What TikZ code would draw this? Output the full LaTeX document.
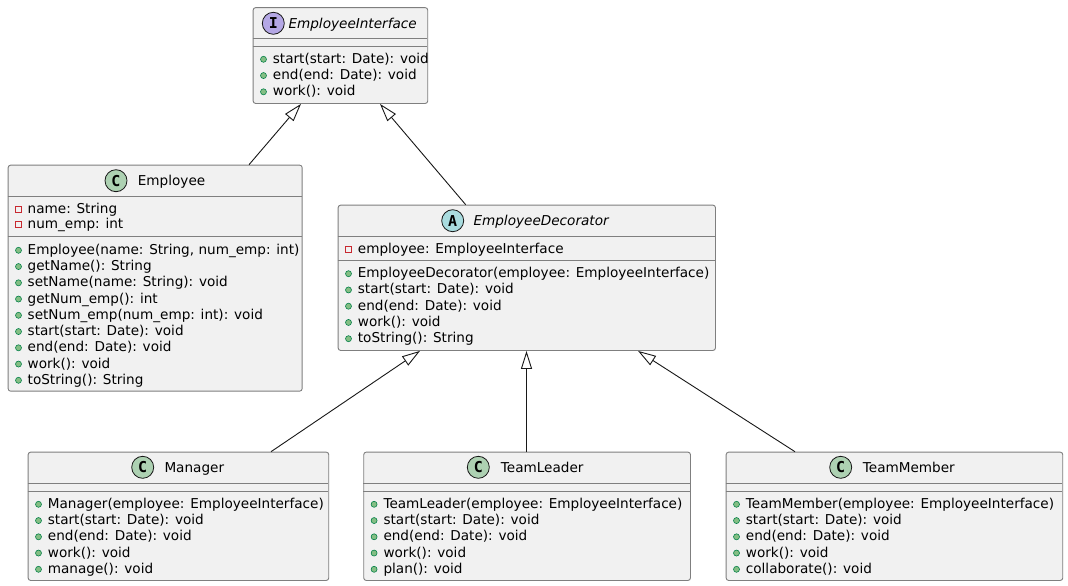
\documentclass[tikz,border=0pt]{standalone}
\usepackage{fontspec}
\setmainfont{DejaVu Sans}
\setmonofont{DejaVu Sans Mono}
\usetikzlibrary{arrows.meta,calc}
\definecolor{boxfill}{HTML}{F1F1F1}
\definecolor{linegray}{HTML}{7F7F7F}
\definecolor{cgreen}{HTML}{ADD1B2}
\definecolor{ipurple}{HTML}{B4A7E5}
\definecolor{acyan}{HTML}{A9DCDF}
\definecolor{pubfill}{HTML}{84BE84}
\definecolor{publine}{HTML}{038048}
\definecolor{privred}{HTML}{C82930}
\definecolor{ink}{HTML}{181818}
\tikzset{
  cls/.style={draw=linegray, fill=boxfill, rounded corners=2.5pt, line width=0.9pt, inner sep=0pt, anchor=north west},
  sepline/.style={draw=linegray, line width=0.9pt},
  row/.style={anchor=base west, inner sep=0pt, font=\fontsize{13.6}{16}\selectfont, text=black},
  title/.style={anchor=base west, inner sep=0pt, font=\fontsize{13.6}{16}\selectfont, text=black},
  ititle/.style={title, font=\fontsize{13.6}{16}\selectfont\itshape},
  icon/.style={circle, draw=ink, line width=0.8pt, minimum size=22pt, inner sep=0pt, font=\fontsize{15}{16}\selectfont\ttfamily\bfseries, text=black},
  pubdot/.style={circle, draw=publine, fill=pubfill, line width=0.6pt, minimum size=6pt, inner sep=0pt},
  privsq/.style={rectangle, draw=privred, line width=0.8pt, minimum size=6pt, inner sep=0pt},
  inherit/.style={draw=ink, line width=0.9pt, -{Triangle[open, length=18pt, width=11pt, fill=white]}}
}
\begin{document}
\begin{tikzpicture}[x=1pt,y=-1pt]
\useasboundingbox (0,0) rectangle (1068,586);
\fill[white] (0,0) rectangle (1068,586);

% ---------- EmployeeInterface ----------
\node[cls, minimum width=174.6pt, minimum height=95.8pt] (iface) at (252.7,7.2) {};
\draw[sepline] (252.7,38.5) -- (427.3,38.5);
\draw[sepline] (252.7,46.7) -- (427.3,46.7);
\node[icon, fill=ipurple] (ifaceicon) at (273.3,23.3) {I};
\node[ititle] (ifacename) at (288.3,28.3) {EmployeeInterface};
\foreach \t [count=\i] in {{start(start: Date): void},{end(end: Date): void},{work(): void}}{
  \node[pubdot] (ifd\i) at (263.5,{59.3+16.25*(\i-1)}) {};
  \node[row] (ifr\i) at (272.7,{63.3+16.25*(\i-1)}) {\t};
}

% ---------- Employee ----------
\node[cls, minimum width=294pt, minimum height=226pt] (emp) at (7.7,164.7) {};
\draw[sepline] (7.7,196) -- (301.7,196);
\draw[sepline] (7.7,236.5) -- (301.7,236.5);
\node[icon, fill=cgreen] (empicon) at (116,180.7) {C};
\node[title] (empname) at (137.7,185.7) {Employee};
\foreach \t [count=\i] in {{name: String},{num\_emp: int}}{
  \node[privsq] (eps\i) at (18.5,{209.3+15.5*(\i-1)}) {};
  \node[row] (epr\i) at (27.5,{213.3+15.5*(\i-1)}) {\t};
}
\foreach \t [count=\i] in {{Employee(name: String, num\_emp: int)},{getName(): String},{setName(name: String): void},{getNum\_emp(): int},{setNum\_emp(num\_emp: int): void},{start(start: Date): void},{end(end: Date): void},{work(): void},{toString(): String}}{
  \node[pubdot] (emd\i) at (18.5,{250.3+16.25*(\i-1)}) {};
  \node[row] (emr\i) at (27.5,{254.3+16.25*(\i-1)}) {\t};
}

% ---------- EmployeeDecorator ----------
\node[cls, minimum width=377.3pt, minimum height=145.3pt] (dec) at (337.7,204.7) {};
\draw[sepline] (337.7,236) -- (715,236);
\draw[sepline] (337.7,260.5) -- (715,260.5);
\node[icon, fill=acyan] (decicon) at (452.7,220.7) {A};
\node[ititle] (decname) at (473.3,225.7) {EmployeeDecorator};
\node[privsq] (dps1) at (348.5,249.3) {};
\node[row] (dpr1) at (357.7,253.3) {employee: EmployeeInterface};
\foreach \t [count=\i] in {{EmployeeDecorator(employee: EmployeeInterface)},{start(start: Date): void},{end(end: Date): void},{work(): void},{toString(): String}}{
  \node[pubdot] (dmd\i) at (348.5,{273.7+16.25*(\i-1)}) {};
  \node[row] (dmr\i) at (357.7,{277.7+16.25*(\i-1)}) {\t};
}

% ---------- Manager ----------
\node[cls, minimum width=300.6pt, minimum height=128.3pt] (man) at (27.7,451.7) {};
\draw[sepline] (27.7,483.3) -- (328.3,483.3);
\draw[sepline] (27.7,491.5) -- (328.3,491.5);
\node[icon, fill=cgreen] (manicon) at (142.7,467.3) {C};
\node[title] (manname) at (164.3,472.3) {Manager};
\foreach \t [count=\i] in {{Manager(employee: EmployeeInterface)},{start(start: Date): void},{end(end: Date): void},{work(): void},{manage(): void}}{
  \node[pubdot] (mnd\i) at (38.5,{504.3+16.25*(\i-1)}) {};
  \node[row] (mnr\i) at (47.7,{508.3+16.25*(\i-1)}) {\t};
}

% ---------- TeamLeader ----------
\node[cls, minimum width=326.7pt, minimum height=128.3pt] (tl) at (363.3,451.7) {};
\draw[sepline] (363.3,483.3) -- (690,483.3);
\draw[sepline] (363.3,491.5) -- (690,491.5);
\node[icon, fill=cgreen] (tlicon) at (478.3,467.3) {C};
\node[title] (tlname) at (500.7,472.3) {TeamLeader};
\foreach \t [count=\i] in {{TeamLeader(employee: EmployeeInterface)},{start(start: Date): void},{end(end: Date): void},{work(): void},{plan(): void}}{
  \node[pubdot] (tld\i) at (374.1,{504.3+16.25*(\i-1)}) {};
  \node[row] (tlr\i) at (383.3,{508.3+16.25*(\i-1)}) {\t};
}

% ---------- TeamMember ----------
\node[cls, minimum width=336.6pt, minimum height=128.3pt] (tm) at (725.7,451.7) {};
\draw[sepline] (725.7,483.3) -- (1062.3,483.3);
\draw[sepline] (725.7,491.5) -- (1062.3,491.5);
\node[icon, fill=cgreen] (tmicon) at (840.7,467.3) {C};
\node[title] (tmname) at (862.7,472.3) {TeamMember};
\foreach \t [count=\i] in {{TeamMember(employee: EmployeeInterface)},{start(start: Date): void},{end(end: Date): void},{work(): void},{collaborate(): void}}{
  \node[pubdot] (tmd\i) at (736.5,{504.3+16.25*(\i-1)}) {};
  \node[row] (tmr\i) at (745.7,{508.3+16.25*(\i-1)}) {\t};
}

% ---------- connectors ----------
\coordinate (e1s) at (emp.north west -| 249,0);
\coordinate (e1t) at (iface.south west -| 301,0);
\coordinate (e2s) at (dec.north west -| 465.7,0);
\coordinate (e2t) at (iface.south west -| 380,0);
\coordinate (m1s) at (man.north west -| 271,0);
\coordinate (m1t) at (dec.south west -| 420,0);
\coordinate (t1s) at (tl.north west -| 526.5,0);
\coordinate (t1t) at (dec.south west -| 526.5,0);
\coordinate (t2s) at (tm.north west -| 795,0);
\coordinate (t2t) at (dec.south west -| 638,0);
\draw[inherit] (e1s) -- (e1t);
\draw[inherit] (e2s) -- (e2t);
\draw[inherit] (m1s) -- (m1t);
\draw[inherit] (t1s) -- (t1t);
\draw[inherit] (t2s) -- (t2t);
\end{tikzpicture}
\end{document}
